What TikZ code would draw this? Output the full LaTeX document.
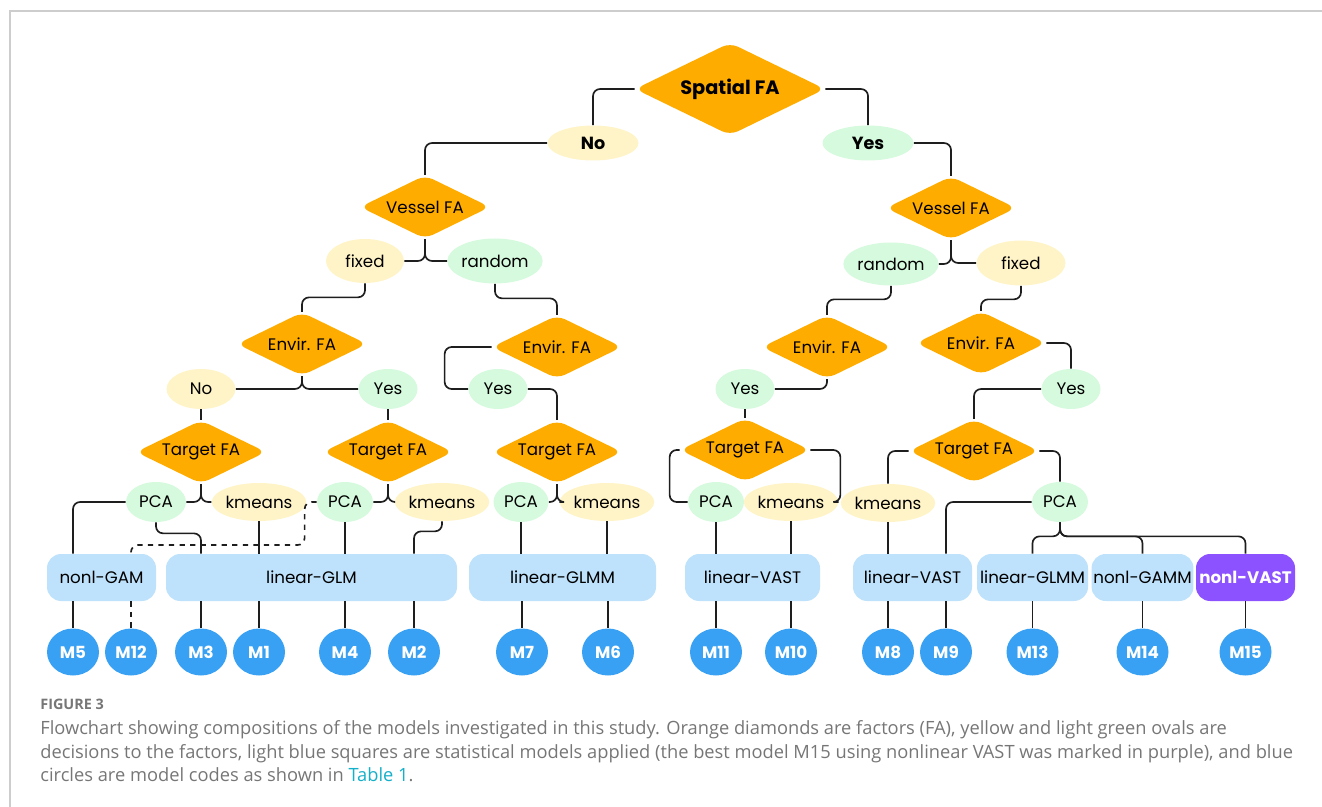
\documentclass[tikz,border=0pt]{standalone}
\usepackage{fontspec}
\setmainfont{Poppins}
\newfontfamily\capfont{Open Sans}
\usepackage{xcolor}
\usepackage{tikz}
\usetikzlibrary{shapes.geometric, positioning, calc}
\definecolor{mydark}{RGB}{30,30,30}
\definecolor{myorange}{RGB}{255,172,0}
\definecolor{hdryellow}{RGB}{255,244,200}
\definecolor{hdrgreen}{RGB}{214,250,221}
\definecolor{hdrblue}{RGB}{190,226,251}
\definecolor{myblue}{RGB}{56,161,243}
\definecolor{mypurple}{RGB}{140,82,255}
\definecolor{mgframe}{RGB}{205,205,205}
\definecolor{capgray}{RGB}{118,118,118}
\definecolor{mycyan}{RGB}{20,175,200}
\tikzset{
  factor/.style={diamond, fill=myorange, aspect=2, inner sep=0pt,
    minimum width=2.6cm, minimum height=1.27cm, rounded corners=5pt,
    font=\fontsize{9.5}{11}\selectfont},
  nooval/.style={ellipse, fill=hdryellow, inner sep=0pt,
    minimum width=1.2cm, minimum height=0.8cm,
    font=\fontsize{9.5}{11}\selectfont},
  yesoval/.style={ellipse, fill=hdrgreen, inner sep=0pt,
    minimum width=1.2cm, minimum height=0.8cm,
    font=\fontsize{9.5}{11}\selectfont},
  model/.style={rectangle, fill=hdrblue, rounded corners=8pt,
    minimum height=0.94cm, inner sep=1pt,
    font=\fontsize{9.5}{11}\selectfont},
  bestmodel/.style={model, fill=mypurple, text=white,
    font=\fontsize{9.5}{11}\selectfont\bfseries},
  code/.style={ellipse, fill=myblue, text=white, inner sep=0pt,
    minimum width=1.04cm, minimum height=0.94cm,
    font=\fontsize{9.5}{11}\selectfont\bfseries},
  link/.style={line width=0.95pt, color=mydark, rounded corners=4pt},
  captext/.style={anchor=base west, inner sep=0pt, text=capgray,
    font=\capfont\fontsize{10.4}{12}\selectfont}
}

\begin{document}
\begin{tikzpicture}
  \useasboundingbox (0,0) rectangle (26.44,-16.14);
  \draw[color=mgframe, line width=0.6pt] (26.44,-0.22) -- (0.2,-0.22) -- (0.2,-16.14);

  % Factors
  \node[factor, minimum width=3.8cm, minimum height=1.85cm,
    font=\fontsize{11}{13}\selectfont\bfseries] (sfa) at (14.60,-1.78) {Spatial FA};
  \node[factor] (vfaL) at (8.50,-4.14) {Vessel FA};
  \node[factor] (vfaR) at (19.02,-4.16) {Vessel FA};
  \node[factor] (efaA) at (6.04,-6.88) {Envir. FA};
  \node[factor] (efaB) at (11.14,-6.94) {Envir. FA};
  \node[factor] (efaC) at (16.54,-6.94) {Envir. FA};
  \node[factor] (efaD) at (19.62,-6.86) {Envir. FA};
  \node[factor] (tfaA) at (4.02,-9.04) {Target FA};
  \node[factor] (tfaB) at (7.76,-9.04) {Target FA};
  \node[factor] (tfaC) at (11.14,-9.04) {Target FA};
  \node[factor] (tfaD) at (14.90,-9.00) {Target FA};
  \node[factor] (tfaE) at (19.48,-9.02) {Target FA};

  % Decisions
  \node[nooval, minimum width=1.82cm, minimum height=0.7cm,
    font=\fontsize{10}{12}\selectfont\bfseries] (no1) at (11.86,-2.86) {No};
  \node[yesoval, minimum width=1.82cm, minimum height=0.7cm,
    font=\fontsize{10}{12}\selectfont\bfseries] (yes1) at (17.36,-2.86) {Yes};
  \node[nooval, minimum width=1.56cm, minimum height=0.88cm] (fixL) at (7.30,-5.22) {fixed};
  \node[yesoval, minimum width=1.76cm, minimum height=0.9cm] (rndL) at (9.90,-5.22) {random};
  \node[yesoval, minimum width=1.56cm, minimum height=0.86cm] (rndR) at (17.82,-5.28) {random};
  \node[nooval, minimum width=1.78cm, minimum height=0.9cm] (fixR) at (20.42,-5.26) {fixed};
  \node[nooval, minimum width=1.38cm] (noA) at (4.02,-7.78) {No};
  \node[yesoval, minimum width=1.18cm] (yesA) at (7.76,-7.78) {Yes};
  \node[yesoval, minimum width=1.18cm] (yesB) at (9.96,-7.78) {Yes};
  \node[yesoval, minimum width=1.18cm] (yesC) at (14.90,-7.78) {Yes};
  \node[yesoval, minimum width=1.18cm] (yesD) at (21.42,-7.78) {Yes};
  \node[yesoval] (pcaA) at (3.12,-10.04) {PCA};
  \node[nooval, minimum width=1.72cm, minimum height=0.76cm] (kmA) at (5.18,-10.04) {kmeans};
  \node[yesoval, minimum width=1.12cm] (pcaB) at (6.90,-10.04) {PCA};
  \node[nooval, minimum width=1.62cm, minimum height=0.76cm] (kmB) at (8.84,-10.04) {kmeans};
  \node[yesoval, minimum width=1.1cm] (pcaC) at (10.42,-10.04) {PCA};
  \node[nooval, minimum width=1.6cm, minimum height=0.76cm] (kmC) at (12.14,-10.04) {kmeans};
  \node[yesoval, minimum width=1.12cm] (pcaD) at (14.32,-10.04) {PCA};
  \node[nooval, minimum width=1.62cm, minimum height=0.76cm] (kmD) at (15.82,-10.04) {kmeans};
  \node[nooval, minimum width=1.6cm, minimum height=0.76cm] (kmE) at (17.76,-10.06) {kmeans};
  \node[yesoval, minimum width=1.12cm] (pcaE) at (21.20,-10.04) {PCA};

  % Models
  \node[model, minimum width=2.18cm] (gam) at (2.03,-11.55) {nonl-GAM};
  \node[model, minimum width=5.82cm] (glm) at (6.23,-11.55) {linear-GLM};
  \node[model, minimum width=3.74cm] (glmmA) at (11.25,-11.55) {linear-GLMM};
  \node[model, minimum width=2.70cm] (vastA) at (15.05,-11.55) {linear-VAST};
  \node[model, minimum width=2.38cm] (vastB) at (18.25,-11.55) {linear-VAST};
  \node[model, minimum width=2.22cm] (glmmB) at (20.65,-11.55) {linear-GLMM};
  \node[model, minimum width=1.98cm] (gamm) at (22.85,-11.55) {nonl-GAMM};
  \node[bestmodel, minimum width=1.98cm] (vastC) at (24.91,-11.55) {nonl-VAST};

  % Model codes
  \node[code] (m5) at (1.46,-13.04) {M5};
  \node[code] (m12) at (2.62,-13.04) {M12};
  \node[code] (m3) at (4.02,-13.04) {M3};
  \node[code] (m1) at (5.18,-13.04) {M1};
  \node[code] (m4) at (6.90,-13.04) {M4};
  \node[code] (m2) at (8.28,-13.04) {M2};
  \node[code] (m7) at (10.44,-13.04) {M7};
  \node[code] (m6) at (12.16,-13.04) {M6};
  \node[code] (m11) at (14.32,-13.04) {M11};
  \node[code] (m10) at (15.82,-13.04) {M10};
  \node[code] (m8) at (17.76,-13.04) {M8};
  \node[code] (m9) at (18.92,-13.04) {M9};
  \node[code] (m13) at (20.65,-13.04) {M13};
  \node[code] (m14) at (22.85,-13.04) {M14};
  \node[code] (m15) at (24.91,-13.04) {M15};

  % Spatial and vessel branches
  \draw[link] (sfa.west) -| (no1.north);
  \draw[link] (sfa.east) -| (yes1.north);
  \draw[link] (no1.west) -| (vfaL.north);
  \draw[link] (yes1.east) -| (vfaR.north);
  \draw[link] (fixL.east) -| (vfaL.south);
  \draw[link] (rndL.west) -| (vfaL.south);
  \draw[link] (rndR.east) -| (vfaR.south);
  \draw[link] (fixR.west) -| (vfaR.south);
  \draw[link] (fixL.south) -- ++(0,-0.28) -| (efaA.north);
  \draw[link] (rndL.south) -- ++(0,-0.29) -| (efaB.north);
  \draw[link] (rndR.south) -- ++(0,-0.27) -| (efaC.north);
  \draw[link] (fixR.south) -- ++(0,-0.27) -| (efaD.north);

  % Envir. branches
  \draw[link] (noA.east) -| (efaA.south);
  \draw[link] (yesA.west) -| (efaA.south);
  \draw[link] (efaB.west) -- ++(-0.94,0) |- (yesB.west);
  \draw[link] (yesB.east) -| (tfaC.north);
  \draw[link] (efaC.south) |- (yesC.east);
  \draw[link] (efaD.east) -| (yesD.north);
  \draw[link] (noA.south) -- (tfaA.north);
  \draw[link] (yesA.south) -- (tfaB.north);
  \draw[link] (yesC.south) -- (tfaD.north);
  \draw[link] (yesD.west) -| (tfaE.north);

  % Target branches
  \draw[link] (pcaA.east) -| (tfaA.south);
  \draw[link] (kmA.west) -| (tfaA.south);
  \draw[link] (pcaB.east) -| (tfaB.south);
  \draw[link] (kmB.west) -| (tfaB.south);
  \draw[link] (pcaC.east) -| (tfaC.south);
  \draw[link] (kmC.west) -| (tfaC.south);
  \draw[link] (tfaD.west) -- ++(-0.2,0) |- (pcaD.west);
  \draw[link] (tfaD.east) -- ++(0.6,0) |- (kmD.east);
  \draw[link] (tfaE.west) -| (kmE.north);
  \draw[link] (tfaE.east) -| (pcaE.north);

  % Into models
  \draw[link] (pcaA.west) -| (gam.north -| m5);
  \draw[link] (pcaA.south) -- ++(0,-0.22) -| (glm.north -| m3);
  \draw[link] (kmA.south) -- (glm.north -| m1);
  \draw[link, dashed] (pcaB.west) -- ++(-0.24,0) -- ++(0,-0.86) -| (gam.north -| m12);
  \draw[link] (pcaB.south) -- (glm.north -| m4);
  \draw[link] (kmB.south) -- ++(0,-0.2) -| (glm.north -| m2);
  \draw[link] (pcaC.south) -- (pcaC.south |- glmmA.north);
  \draw[link] (kmC.south) -- (kmC.south |- glmmA.north);
  \draw[link] (pcaD.south) -- (pcaD.south |- vastA.north);
  \draw[link] (kmD.south) -- (kmD.south |- vastA.north);
  \draw[link] (kmE.south) -- (kmE.south |- vastB.north);
  \draw[link] (pcaE.west) -| (vastB.north -| m9);
  \draw[link] (pcaE.south) -- ++(0,-0.28) -| (glmmB.north);
  \draw[link] (pcaE.south) -- ++(0,-0.28) -| (gamm.north);
  \draw[link] (pcaE.south) -- ++(0,-0.28) -| (vastC.north);

  % Models to codes
  \draw[link] (gam.south -| m5) -- (m5);
  \draw[link, dashed] (gam.south -| m12) -- (m12);
  \foreach \m/\b in {m3/glm, m1/glm, m4/glm, m2/glm, m7/glmmA, m6/glmmA,
      m11/vastA, m10/vastA, m8/vastB, m9/vastB, m13/glmmB, m14/gamm, m15/vastC}
    \draw[link] (\b.south -| \m) -- (\m);

  % Caption
  \node[captext, font=\capfont\fontsize{8.2}{10}\selectfont\bfseries] (capHead) at (0.80,-14.18) {FIGURE 3};
  \node[captext] (capA) at (0.80,-14.68) {Flowchart showing compositions of the models investigated in this study. Orange diamonds are factors (FA), yellow and light green ovals are};
  \node[captext] (capB) at (0.80,-15.16) {decisions to the factors, light blue squares are statistical models applied (the best model M15 using nonlinear VAST was marked in purple), and blue};
  \node[captext] (capC) at (0.80,-15.62) {circles are model codes as shown in {\color{mycyan}Table 1}.};
\end{tikzpicture}
\end{document}
